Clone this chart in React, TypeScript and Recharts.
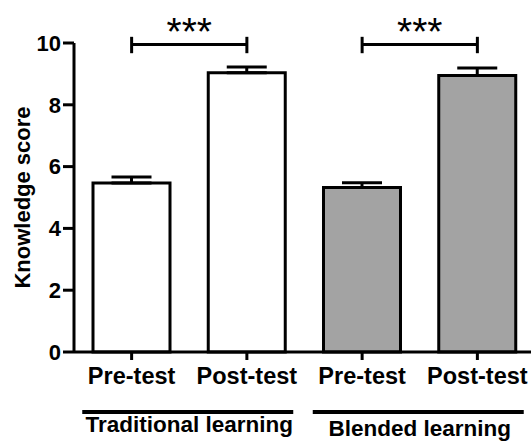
import React from 'react';
import {
  BarChart,
  Bar,
  XAxis,
  YAxis,
  Cell,
  ErrorBar,
  ReferenceLine,
} from 'recharts';

const categoryIds = ['T-pre', 'T-post', 'B-pre', 'B-post'];
const categoryLabels = ['Pre-test', 'Post-test', 'Pre-test', 'Post-test'];
const categoryGroups = [
  'Traditional learning',
  'Traditional learning',
  'Blended learning',
  'Blended learning',
];
const means = [5.47, 9.04, 5.32, 8.95];
const sems = [0.19, 0.18, 0.16, 0.24];
const yTicks = [0, 2, 4, 6, 8, 10];

const comparisons = [
  { from: 'T-pre', to: 'T-post', label: '***' },
  { from: 'B-pre', to: 'B-post', label: '***' },
];
const bracketY = 9.95;
const bracketLow = 9.67;
const bracketHigh = 10.2;

const BAR_FILLS = ['#ffffff', '#ffffff', '#a3a3a3', '#a3a3a3'];
const FONT = '"Liberation Sans", Arial, sans-serif';

const data = categoryIds.map((id, i) => ({
  id,
  group: categoryGroups[i],
  score: means[i],
  err: [0, sems[i]],
}));

function GroupTick(props: any) {
  const { x, y, payload, index } = props;
  return (
    <g>
      <line x1={x - 107} x2={x + 104} y1={y + 8} y2={y + 8} stroke="#000" strokeWidth={4} />
      <text
        x={x}
        y={y + 28 + (index === 1 ? 4 : 0)}
        textAnchor="middle"
        fontFamily={FONT}
        fontSize={22.5}
        fontWeight="bold"
        fill="#000"
      >
        {payload.value}
      </text>
    </g>
  );
}

export default function App() {
  return (
    <div
      style={{
        position: 'absolute',
        left: 0,
        top: 0,
        width: 531,
        height: 443,
        overflow: 'hidden',
        background: '#fff',
      }}
    >
      <BarChart
        width={540}
        height={443}
        data={data}
        margin={{ top: 43, right: 5, left: 0, bottom: 0 }}
      >
        <XAxis
          dataKey="id"
          tickFormatter={(v: string) => categoryLabels[categoryIds.indexOf(v)]}
          axisLine={{ stroke: '#000', strokeWidth: 3 }}
          tickLine={{ stroke: '#000', strokeWidth: 3 }}
          tickSize={8}
          tickMargin={7}
          height={50}
          interval={0}
          tick={{ fill: '#000', fontSize: 23.5, fontWeight: 'bold', fontFamily: FONT }}
        />
        <XAxis
          xAxisId="g"
          dataKey="group"
          allowDuplicatedCategory={false}
          axisLine={false}
          tickLine={false}
          tickSize={0}
          height={41}
          interval={0}
          tick={<GroupTick />}
        />
        <YAxis
          domain={[0, 10]}
          ticks={yTicks}
          width={74}
          interval={0}
          axisLine={{ stroke: '#000', strokeWidth: 3 }}
          tickLine={{ stroke: '#000', strokeWidth: 3 }}
          tickSize={11}
          tickMargin={2}
          tick={{ fill: '#000', fontSize: 22, fontWeight: 'bold', fontFamily: FONT }}
          label={{
            content: (p: any) => {
              const vb = p.viewBox;
              const cx = vb.x + 22;
              const cy = vb.y + vb.height / 2;
              return (
                <text
                  x={cx}
                  y={cy}
                  transform={`rotate(-90 ${cx} ${cy})`}
                  textAnchor="middle"
                  dominantBaseline="central"
                  fontFamily={FONT}
                  fontSize={22}
                  fontWeight="bold"
                  fill="#000"
                >
                  Knowledge score
                </text>
              );
            },
          }}
        />
        <Bar dataKey="score" barSize={77} stroke="#000" strokeWidth={3} isAnimationActive={false}>
          {data.map((d, i) => (
            <Cell key={d.id} fill={BAR_FILLS[i]} />
          ))}
          <ErrorBar dataKey="err" width={20} stroke="#000" strokeWidth={3} direction="y" />
        </Bar>
        {comparisons.map((c) => (
          <ReferenceLine
            key={`h-${c.from}`}
            segment={[
              { x: c.from, y: bracketY },
              { x: c.to, y: bracketY },
            ]}
            stroke="#000"
            strokeWidth={3}
            ifOverflow="visible"
            label={{
              value: c.label,
              position: 'top',
              offset: 0,
              fill: '#000',
              fontSize: 39,
              fontFamily: FONT,
            }}
          />
        ))}
        {comparisons.flatMap((c) =>
          [c.from, c.to].map((k) => (
            <ReferenceLine
              key={`v-${k}`}
              segment={[
                { x: k, y: bracketLow },
                { x: k, y: bracketHigh },
              ]}
              stroke="#000"
              strokeWidth={3}
              ifOverflow="visible"
            />
          ))
        )}
      </BarChart>
    </div>
  );
}
